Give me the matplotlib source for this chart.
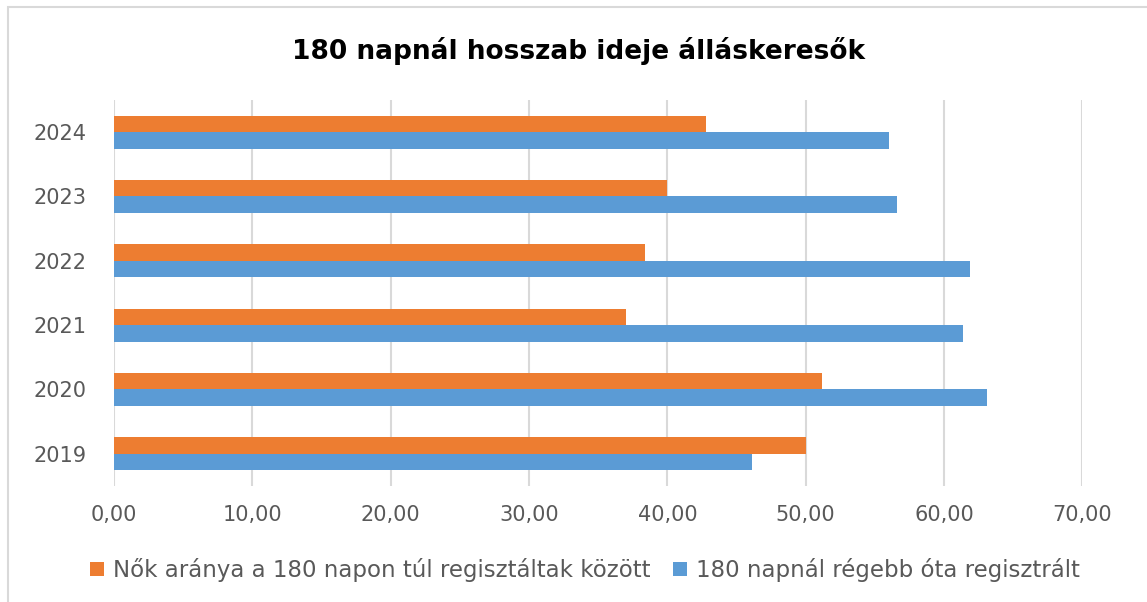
import matplotlib.pyplot as plt
from matplotlib.patches import Rectangle
import numpy as np

years = ["2019", "2020", "2021", "2022", "2023", "2024"]
women_share = [50.0, 51.2, 37.0, 38.4, 40.0, 42.8]
long_term = [46.1, 63.1, 61.4, 61.9, 56.6, 56.0]
x_ticks = [0, 10, 20, 30, 40, 50, 60, 70]
x_labels = ["0,00", "10,00", "20,00", "30,00", "40,00", "50,00", "60,00", "70,00"]

plt.rcParams['font.family'] = ['DejaVu Sans']

fig = plt.figure(figsize=(11.47, 6.02), dpi=100)
ax = fig.add_axes([0.0994, 0.1927, 0.8442, 0.6412])

y = np.arange(len(years))
h = 0.257
ax.barh(y + h / 2, women_share, height=h, color="#ED7D31",
        label="Nők aránya a 180 napon túl regisztáltak között", zorder=3)
ax.barh(y - h / 2, long_term, height=h, color="#5B9BD5",
        label="180 napnál régebb óta regisztrált", zorder=3)

ax.set_xlim(0, 70)
ax.set_ylim(-0.5, len(years) - 0.5)
ax.set_xticks(x_ticks)
ax.set_xticklabels(x_labels)
ax.set_yticks(y)
ax.set_yticklabels(years)
ax.tick_params(axis="both", length=0, labelsize=15, labelcolor="#595959")
ax.tick_params(axis="x", pad=14)
ax.tick_params(axis="y", pad=20)
ax.grid(axis="x", color="#D9D9D9", linewidth=1.5, zorder=0)
for s in ax.spines.values():
    s.set_visible(False)

fig.text(0.504, 0.915, "180 napnál hosszab ideje álláskeresők",
         ha="center", va="center", fontsize=19, fontweight="bold", color="black")

handles, labels = ax.get_legend_handles_labels()
fig.legend(handles, labels, loc="center", bbox_to_anchor=(0.51, 0.053), ncol=2,
           frameon=False, fontsize=16.5, labelcolor="#595959",
           handlelength=0.6, handleheight=0.6, handletextpad=0.4, columnspacing=1.0)

fig.patches.append(Rectangle((0.007, -0.01), 0.995, 0.998, transform=fig.transFigure,
                             fill=False, edgecolor="#D9D9D9", linewidth=1.5))

fig.savefig("out.png", dpi=100)
